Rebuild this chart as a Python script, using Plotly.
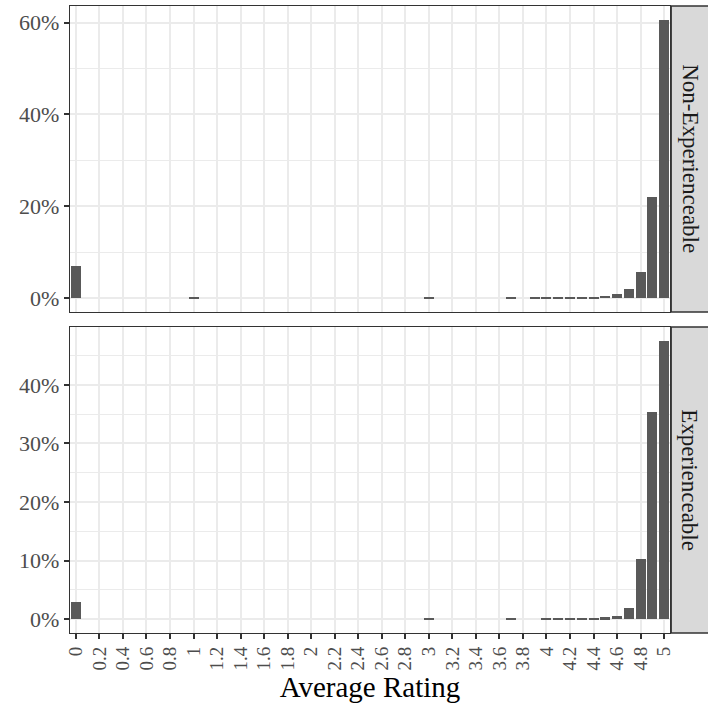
import plotly.graph_objects as go
from plotly.subplots import make_subplots

# Average rating bins (0.0 to 5.0 in steps of 0.1)
ratings = [round(i * 0.1, 1) for i in range(51)]

# Share of listings (%) per bin, non-experienceable goods
non_exp_pct = [
    7.0, 0, 0, 0, 0, 0, 0, 0, 0, 0,
    0.06, 0, 0, 0, 0, 0, 0, 0, 0, 0,
    0, 0, 0, 0, 0, 0, 0, 0, 0, 0,
    0.08, 0, 0, 0, 0, 0, 0, 0.04, 0, 0.04,
    0.08, 0.05, 0.08, 0.15, 0.25, 0.45, 0.9, 2.0, 5.7, 22.0,
    60.6,
]

# Share of listings (%) per bin, experienceable goods
exp_pct = [
    2.9, 0, 0, 0, 0, 0, 0, 0, 0, 0,
    0, 0, 0, 0, 0, 0, 0, 0, 0, 0,
    0, 0, 0, 0, 0, 0, 0, 0, 0, 0,
    0.05, 0, 0, 0, 0, 0, 0, 0.02, 0, 0,
    0.05, 0.04, 0.06, 0.1, 0.15, 0.3, 0.5, 1.9, 10.3, 35.4,
    47.5,
]

panel_names = ["Non-Experienceable", "Experienceable"]

x_ticks = [round(i * 0.2, 1) for i in range(26)]
x_ticklabels = [("%g" % v) for v in x_ticks]

top_yticks = [0, 20, 40, 60]
top_yminor = [10, 30, 50]
bot_yticks = [0, 10, 20, 30, 40]
bot_yminor = [5, 15, 25, 35, 45]

BAR = "#595959"
GRID = "#ebebeb"
BORDER = "#333333"
TICKTXT = "#4d4d4d"
FONT = "Liberation Serif"

fig = make_subplots(rows=2, cols=1, shared_xaxes=False, vertical_spacing=0.024)

for row, vals in [(1, non_exp_pct), (2, exp_pct)]:
    fig.add_trace(
        go.Bar(x=ratings, y=vals, width=0.085, marker=dict(color=BAR, line=dict(width=0)),
               showlegend=False, hoverinfo="x+y"),
        row=row, col=1,
    )

def pct_axis(vals, minor_vals, ymax):
    pad = ymax * 0.05
    return dict(
        range=[-pad, ymax + pad],
        tickvals=vals,
        ticktext=["%d%%" % v for v in vals],
        showgrid=True, gridcolor=GRID, gridwidth=1.6,
        minor=dict(tickvals=minor_vals, showgrid=True, gridcolor=GRID, gridwidth=0.9, ticklen=0),
        zeroline=False,
        ticks="outside", ticklen=5, tickwidth=1.6, tickcolor=BORDER,
        tickfont=dict(family=FONT, size=22, color=TICKTXT),
        showline=True, mirror=True, linecolor=BORDER, linewidth=1.4,
    )

x_common = dict(
    range=[-0.05, 5.05],
    tickvals=x_ticks,
    ticktext=x_ticklabels,
    showgrid=True, gridcolor=GRID, gridwidth=1.6,
    zeroline=False,
    showline=True, mirror=True, linecolor=BORDER, linewidth=1.4,
)

fig.update_layout(
    width=708, height=713,
    margin=dict(l=70, r=38, t=6, b=80),
    paper_bgcolor="white", plot_bgcolor="white",
    bargap=0,
    font=dict(family=FONT),
    xaxis=dict(**x_common, domain=[0, 1], showticklabels=False, ticks="", matches="x2"),
    xaxis2=dict(**x_common, domain=[0, 1], ticks="outside", ticklen=5, tickwidth=1.6,
                tickcolor=BORDER, tickangle=-90,
                tickfont=dict(family=FONT, size=19, color=TICKTXT),
                title=dict(text="Average Rating", font=dict(family=FONT, size=29, color="black"),
                           standoff=4)),
    yaxis=dict(**pct_axis(top_yticks, top_yminor, max(non_exp_pct)), domain=[0.512, 1]),
    yaxis2=dict(**pct_axis(bot_yticks, bot_yminor, max(exp_pct)), domain=[0, 0.488]),
)

# Facet strips on the right-hand side
for name, (y0, y1) in zip(panel_names, [(0.512, 1), (0, 0.488)]):
    fig.add_shape(type="rect", xref="paper", yref="paper",
                  x0=1.002, x1=1.075, y0=y0, y1=y1,
                  fillcolor="#d9d9d9", line=dict(color=BORDER, width=1.4), layer="below")
    fig.add_annotation(xref="paper", yref="paper", x=1.033, y=(y0 + y1) / 2,
                       text=name, textangle=90, showarrow=False,
                       font=dict(family=FONT, size=23, color="#1a1a1a"),
                       xanchor="center", yanchor="middle")

fig.write_html("out.html")
